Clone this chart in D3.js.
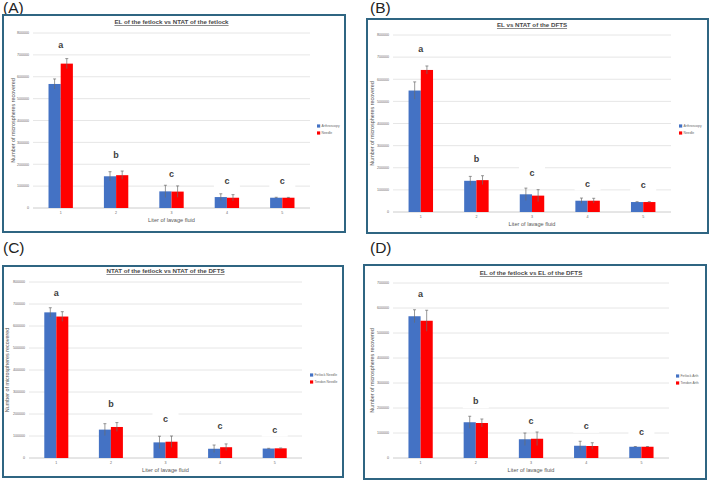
<!DOCTYPE html>
<html>
<head>
<meta charset="utf-8">
<script src="https://cdn.jsdelivr.net/npm/d3@7"></script>
<style>
  body { margin: 0; background: #fff; }
  text { font-family: "Liberation Sans", Arial, sans-serif; }
</style>
</head>
<body>
<script>
// liters of lavage fluid
var categories = ["1", "2", "3", "4", "5"];
var letters = ["a", "b", "c", "c", "c"];

// (A) EL of the fetlock vs NTAT of the fetlock
var aBlue = [567000, 145000, 76000, 50000, 47000];
var aBlueErr = [23000, 21000, 28000, 15000, 2000];
var aRed = [660000, 150000, 75000, 47000, 47000];
var aRedErr = [23000, 19000, 26000, 14000, 1500];
var aLetterY = [747000, 242000, 158000, 125000, 125000];

// (B) EL vs NTAT of the DFTS
var bBlue = [549000, 141000, 80000, 51000, 45000];
var bBlueErr = [39000, 20000, 28000, 12000, 1500];
var bRed = [642000, 144000, 74000, 51000, 45000];
var bRedErr = [18000, 20000, 27000, 11000, 1500];
var bLetterY = [738000, 238000, 176000, 129000, 123000];

// (C) NTAT of the fetlock vs NTAT of the DFTS
var cBlue = [662000, 129000, 71000, 42000, 43000];
var cBlueErr = [21000, 27000, 28000, 17000, 1000];
var cRed = [643000, 141000, 74000, 49000, 44000];
var cRedErr = [22000, 20000, 26000, 15000, 1500];
var cLetterY = [750000, 246000, 178000, 147000, 129000];

// (D) EL of the fetlock vs EL of the DFTS
var dBlue = [567000, 143000, 75000, 49000, 45000];
var dBlueErr = [26000, 24000, 25000, 18000, 1000];
var dRed = [549000, 140000, 77000, 48000, 45000];
var dRedErr = [42000, 16000, 27000, 13000, 1000];
var dLetterY = [657000, 227000, 147000, 129000, 104000];

var panels = [
  { tag: "(A)", title: "EL of the fetlock vs NTAT of the fetlock", legend: ["Arthroscopy", "Needle"],
    blue: aBlue, blueErr: aBlueErr, red: aRed, redErr: aRedErr, letterY: aLetterY, yMax: 800000,
    box: [3, 15, 345, 232], plot: [33, 33, 310, 208], tagPos: [3, 13], titleY: 24, yTitleX: 13, legendPos: [317, 126] },
  { tag: "(B)", title: "EL vs NTAT of the DFTS", legend: ["Arthroscopy", "Needle"],
    blue: bBlue, blueErr: bBlueErr, red: bRed, redErr: bRedErr, letterY: bLetterY, yMax: 800000,
    box: [367, 19, 708, 233], plot: [393, 35, 671, 212], tagPos: [370, 13], titleY: 27, yTitleX: 372, legendPos: [679, 126] },
  { tag: "(C)", title: "NTAT of the fetlock vs NTAT of the DFTS", legend: ["Fetlock Needle", "Tendon Needle"],
    blue: cBlue, blueErr: cBlueErr, red: cRed, redErr: cRedErr, letterY: cLetterY, yMax: 800000,
    box: [3, 266, 343, 477], plot: [29, 282, 302, 458], tagPos: [3, 253], titleY: 273, yTitleX: 7, legendPos: [310, 375] },
  { tag: "(D)", title: "EL of the fetlock vs EL of the DFTS", legend: ["Fetlock Arth", "Tendon Arth"],
    blue: dBlue, blueErr: dBlueErr, red: dRed, redErr: dRedErr, letterY: dLetterY, yMax: 700000,
    box: [364, 265, 706, 479], plot: [393, 283, 669, 458], tagPos: [370, 253], titleY: 275, yTitleX: 372, legendPos: [676, 376] }
];

var blueColor = "#4472c4";
var redColor = "#ff0000";

var svg = d3.select("body").append("svg")
  .attr("width", 709)
  .attr("height", 481);

panels.forEach(function (p) {
  var g = svg.append("g");
  var left = p.plot[0], top = p.plot[1], right = p.plot[2], bottom = p.plot[3];

  // panel tag
  g.append("text")
    .attr("x", p.tagPos[0]).attr("y", p.tagPos[1])
    .attr("font-size", 15.5).attr("fill", "#222")
    .text(p.tag);

  // box around chart
  g.append("rect")
    .attr("x", p.box[0]).attr("y", p.box[1])
    .attr("width", p.box[2] - p.box[0]).attr("height", p.box[3] - p.box[1])
    .attr("fill", "#fff").attr("stroke", "#2f6582").attr("stroke-width", 2);

  var x = d3.scaleBand().domain(categories).range([left, right]);
  var bw = x.bandwidth();
  var inner = d3.scaleBand().domain(["blue", "red"]).range([bw * 0.28, bw * 0.72]);
  var y = d3.scaleLinear().domain([0, p.yMax]).range([bottom, top]);

  // gridlines + y labels
  var ticks = d3.range(0, p.yMax + 1, 100000);
  g.selectAll(".grid").data(ticks).enter().append("line")
    .attr("x1", left).attr("x2", right)
    .attr("y1", function (d) { return y(d); }).attr("y2", function (d) { return y(d); })
    .attr("stroke", function (d) { return d === 0 ? "#bfbfbf" : "#e0e0e0"; })
    .attr("stroke-width", 0.8);

  g.selectAll(".ylab").data(ticks).enter().append("text")
    .attr("x", left - 4).attr("y", function (d) { return y(d); })
    .attr("dy", "0.35em").attr("text-anchor", "end")
    .attr("font-size", 3.6).attr("fill", "#666")
    .text(function (d) { return d; });

  // x labels
  g.selectAll(".xlab").data(categories).enter().append("text")
    .attr("x", function (d) { return x(d) + bw / 2; }).attr("y", bottom + 6)
    .attr("text-anchor", "middle").attr("font-size", 3.6).attr("fill", "#666")
    .text(function (d) { return d; });

  // titles
  g.append("text")
    .attr("x", (left + right) / 2).attr("y", p.titleY)
    .attr("text-anchor", "middle").attr("font-size", 6.2).attr("font-weight", "bold")
    .attr("fill", "#4a4a4a").attr("text-decoration", "underline")
    .text(p.title);

  g.append("text")
    .attr("x", (left + right) / 2).attr("y", bottom + 14)
    .attr("text-anchor", "middle").attr("font-size", 5.6).attr("fill", "#595959")
    .text("Liter of lavage fluid");

  g.append("text")
    .attr("transform", "translate(" + p.yTitleX + "," + ((top + bottom) / 2) + ") rotate(-90)")
    .attr("text-anchor", "middle").attr("dy", "0.35em")
    .attr("font-size", 5.4).attr("fill", "#595959")
    .text("Number of microspheres recovered");

  // white boxes behind the letters (they hide the gridlines like in the original)
  g.selectAll(".letterbox").data(letters).enter().append("rect")
    .attr("x", function (d, i) { return x(categories[i]) + bw / 2 - 13; })
    .attr("y", function (d, i) { return y(p.letterY[i]) - 7; })
    .attr("width", 26).attr("height", 14)
    .attr("fill", "#fff");

  // bars
  var series = [
    { key: "blue", vals: p.blue, errs: p.blueErr, color: blueColor },
    { key: "red", vals: p.red, errs: p.redErr, color: redColor }
  ];
  series.forEach(function (s) {
    g.selectAll(".bar-" + s.key).data(s.vals).enter().append("rect")
      .attr("x", function (d, i) { return x(categories[i]) + inner(s.key); })
      .attr("y", function (d) { return y(d); })
      .attr("width", inner.bandwidth())
      .attr("height", function (d) { return bottom - y(d); })
      .attr("fill", s.color);
  });
  series.forEach(function (s) {
    var cx = function (i) { return x(categories[i]) + inner(s.key) + inner.bandwidth() / 2; };
    g.selectAll(".err-" + s.key).data(s.vals).enter().append("path")
      .attr("d", function (d, i) {
        var c = cx(i), y1 = y(d + s.errs[i]), y0 = y(d - s.errs[i]);
        return "M" + c + "," + y0 + "V" + y1 + "M" + (c - 1.5) + "," + y1 + "H" + (c + 1.5);
      })
      .attr("stroke", "#6b6b6b").attr("stroke-width", 0.7).attr("fill", "none");
  });

  // significance letters
  g.selectAll(".letter").data(letters).enter().append("text")
    .attr("x", function (d, i) { return x(categories[i]) + bw / 2; })
    .attr("y", function (d, i) { return y(p.letterY[i]); })
    .attr("dy", "0.35em").attr("text-anchor", "middle")
    .attr("font-size", 9).attr("font-weight", "bold").attr("fill", "#404040")
    .text(function (d) { return d; });

  // legend
  p.legend.forEach(function (name, i) {
    var ly = p.legendPos[1] + i * 7;
    g.append("rect")
      .attr("x", p.legendPos[0]).attr("y", ly - 1.6)
      .attr("width", 3.2).attr("height", 3.2)
      .attr("fill", i === 0 ? blueColor : redColor);
    g.append("text")
      .attr("x", p.legendPos[0] + 4.5).attr("y", ly)
      .attr("dy", "0.35em").attr("font-size", 3.4).attr("fill", "#666")
      .text(name);
  });
});
</script>
</body>
</html>
